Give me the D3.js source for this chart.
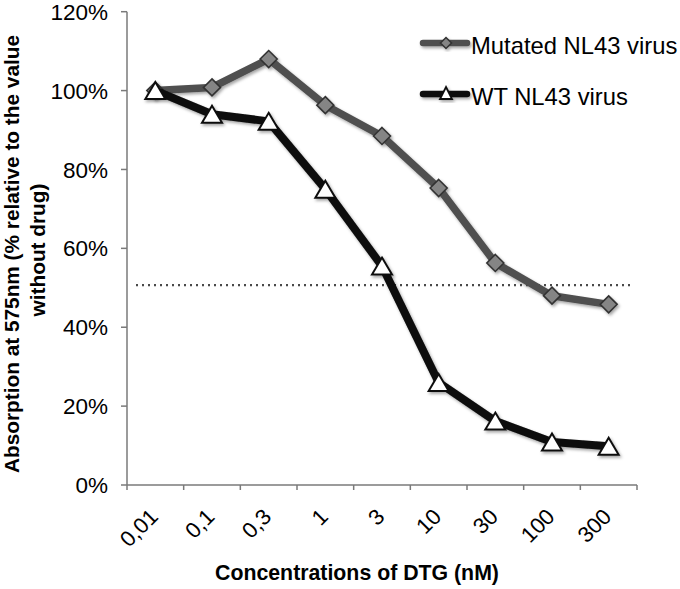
<!DOCTYPE html>
<html>
<head>
<meta charset="utf-8">
<script src="https://cdn.jsdelivr.net/npm/d3@7"></script>
<style>
  html, body { margin: 0; padding: 0; background: #fff; }
  svg { display: block; font-family: "Liberation Sans", Arial, Helvetica, sans-serif; }
</style>
</head>
<body>
<svg id="chart" width="680" height="589"></svg>
<script>
const categories = ["0,01", "0,1", "0,3", "1", "3", "10", "30", "100", "300"];
const mutatedValues = [100, 100.8, 108, 96.3, 88.5, 75.3, 56.3, 48, 45.8];
const wtValues = [100, 94, 92.2, 75, 55.5, 26, 16.2, 10.9, 9.8];
const yTicks = [0, 20, 40, 60, 80, 100, 120];
const threshold = 50.7;
const seriesNames = ["Mutated NL43 virus", "WT NL43 virus"];
const xTitle = "Concentrations of DTG (nM)";
const yTitleLines = ["Absorption at 575nm (% relative to the value", "without drug)"];

const svg = d3.select("#chart");

const x = d3.scaleBand().domain(categories).range([127, 637]).paddingInner(0).paddingOuter(0);
const y = d3.scaleLinear().domain([0, 120]).range([485, 11.7]);

const defs = svg.append("defs");
const f = defs.append("filter").attr("id", "shadow").attr("x", "-30%").attr("y", "-30%").attr("width", "160%").attr("height", "160%");
f.append("feDropShadow").attr("dx", 1.5).attr("dy", 2).attr("stdDeviation", 1.4)
  .attr("flood-color", "#000").attr("flood-opacity", 0.35);

const axisColor = "#7a7a7a";

// Y axis
const gy = svg.append("g");
gy.append("line").attr("x1", 127).attr("x2", 127).attr("y1", y(120)).attr("y2", y(0))
  .attr("stroke", axisColor).attr("stroke-width", 1.5);
gy.selectAll(".yt").data(yTicks).join("line")
  .attr("x1", 121).attr("x2", 127).attr("y1", d => y(d)).attr("y2", d => y(d))
  .attr("stroke", axisColor).attr("stroke-width", 1.5);
gy.selectAll(".yl").data(yTicks).join("text")
  .attr("x", 108).attr("y", d => y(d)).attr("dy", "0.36em")
  .attr("text-anchor", "end").attr("font-size", 22.5).attr("fill", "#000")
  .text(d => d + "%");

// X axis
const gx = svg.append("g");
gx.append("line").attr("x1", x.range()[0]).attr("x2", x.range()[1]).attr("y1", y(0)).attr("y2", y(0))
  .attr("stroke", axisColor).attr("stroke-width", 1.5);
const boundaries = categories.map(c => x(c)).concat([x(categories[categories.length - 1]) + x.bandwidth()]);
gx.selectAll(".xt").data(boundaries).join("line")
  .attr("x1", d => d).attr("x2", d => d).attr("y1", y(0)).attr("y2", y(0) + 5)
  .attr("stroke", axisColor).attr("stroke-width", 1.5);
gx.selectAll(".xl").data(categories).join("text")
  .attr("transform", d => `translate(${x(d) + x.bandwidth() / 2 + 4},${y(0) + 33}) rotate(-45)`)
  .attr("text-anchor", "end").attr("font-size", 22).attr("fill", "#000")
  .text(d => d);

// Axis titles
svg.append("text").attr("x", 357).attr("y", 580).attr("text-anchor", "middle")
  .attr("font-size", 21.3).attr("font-weight", "bold").text(xTitle);
svg.append("text").attr("transform", "translate(19,254) rotate(-90)").attr("text-anchor", "middle")
  .attr("font-size", 20.8).attr("font-weight", "bold").text(yTitleLines[0]);
svg.append("text").attr("transform", "translate(45,250) rotate(-90)").attr("text-anchor", "middle")
  .attr("font-size", 20.8).attr("font-weight", "bold").text(yTitleLines[1]);

// Threshold dotted line
svg.append("line")
  .attr("x1", x.range()[0] + 9).attr("x2", x.range()[1] - 5)
  .attr("y1", y(threshold)).attr("y2", y(threshold))
  .attr("stroke", "#4a4a4a").attr("stroke-width", 2.2).attr("stroke-dasharray", "2,4");

const cx = d => x(d) + x.bandwidth() / 2;
const line = d3.line().x((d, i) => cx(categories[i])).y(d => y(d));

const diamond = s => `M0,${-s}L${s},0L0,${s}L${-s},0Z`;
const triangle = (w, h) => `M0,${-h / 2}L${w / 2},${h / 2}L${-w / 2},${h / 2}Z`;

// Mutated series
const gm = svg.append("g").attr("filter", "url(#shadow)");
gm.append("path").datum(mutatedValues).attr("d", line)
  .attr("fill", "none").attr("stroke", "#4f4f4f").attr("stroke-width", 7.5).attr("stroke-linejoin", "round");
gm.selectAll("path.m").data(mutatedValues).join("path").attr("class", "m")
  .attr("transform", (d, i) => `translate(${cx(categories[i])},${y(d)})`)
  .attr("d", diamond(8.5)).attr("fill", "#858585").attr("stroke", "#333").attr("stroke-width", 1.6);

// WT series
const gw = svg.append("g").attr("filter", "url(#shadow)");
gw.append("path").datum(wtValues).attr("d", line)
  .attr("fill", "none").attr("stroke", "#0a0a0a").attr("stroke-width", 8).attr("stroke-linejoin", "round");
gw.selectAll("path.w").data(wtValues).join("path").attr("class", "w")
  .attr("transform", (d, i) => `translate(${cx(categories[i])},${y(d)})`)
  .attr("d", triangle(20, 17)).attr("fill", "#fff").attr("stroke", "#111").attr("stroke-width", 2);

// Legend
const legend = svg.append("g");
const legY = [43, 94];
[0, 1].forEach(i => {
  const g = legend.append("g").attr("filter", "url(#shadow)");
  g.append("line").attr("x1", 423).attr("x2", 467).attr("y1", legY[i]).attr("y2", legY[i])
    .attr("stroke", i === 0 ? "#4f4f4f" : "#0a0a0a").attr("stroke-width", 6.5).attr("stroke-linecap", "round");
  if (i === 0) {
    g.append("path").attr("transform", `translate(446,${legY[i]})`).attr("d", diamond(5.5))
      .attr("fill", "#858585").attr("stroke", "#333").attr("stroke-width", 1.5);
  } else {
    g.append("path").attr("transform", `translate(446,${legY[i] - 1})`).attr("d", triangle(12, 12))
      .attr("fill", "#fff").attr("stroke", "#111").attr("stroke-width", 1.8);
  }
  legend.append("text").attr("x", 471).attr("y", legY[i] + 11).attr("font-size", 23.8).attr("fill", "#000")
    .text(seriesNames[i]);
});
</script>
</body>
</html>
